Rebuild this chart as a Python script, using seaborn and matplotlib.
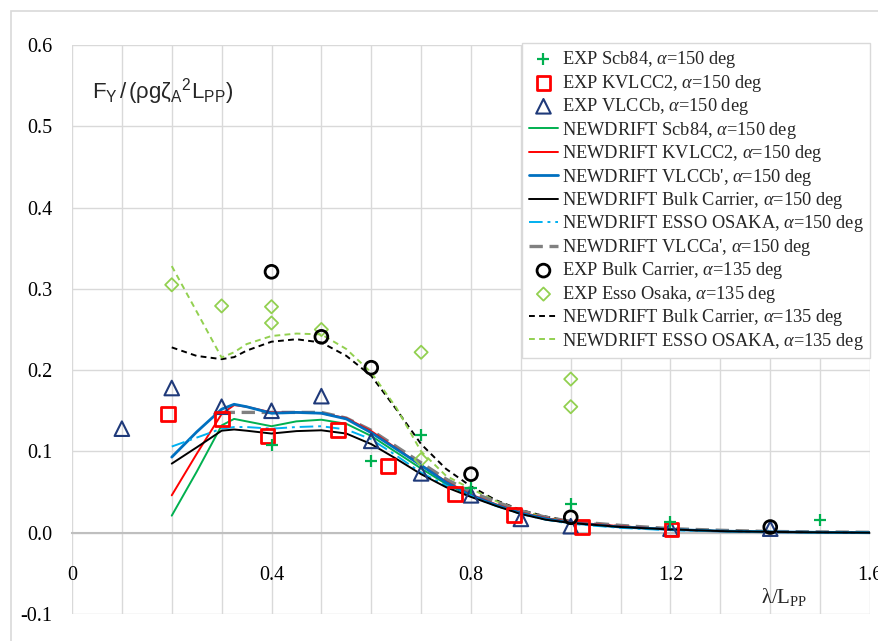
import numpy as np
import pandas as pd
import matplotlib
matplotlib.use("Agg")
import matplotlib.pyplot as plt
from matplotlib.patches import Rectangle
import seaborn as sns

# ---------------- data ----------------
exp_scb84_x = [0.4, 0.6, 0.7, 0.8, 1.0, 1.2, 1.5]
exp_scb84_y = [0.108, 0.088, 0.120, 0.055, 0.035, 0.013, 0.016]

exp_kvlcc2_x = [0.192, 0.30, 0.392, 0.534, 0.634, 0.768, 0.886, 1.022, 1.202]
exp_kvlcc2_y = [0.146, 0.140, 0.119, 0.126, 0.082, 0.048, 0.022, 0.007, 0.004]

exp_vlccb_x = [0.1, 0.2, 0.3, 0.4, 0.5, 0.6, 0.7, 0.8, 0.9, 1.0, 1.2, 1.4]
exp_vlccb_y = [0.128, 0.178, 0.155, 0.150, 0.168, 0.113, 0.073, 0.046, 0.017, 0.008, 0.005, 0.005]

exp_bulk_x = [0.4, 0.5, 0.6, 0.8, 1.0, 1.4]
exp_bulk_y = [0.321, 0.241, 0.203, 0.072, 0.019, 0.007]

exp_esso_x = [0.2, 0.3, 0.4, 0.4, 0.5, 0.7, 0.7, 1.0, 1.0]
exp_esso_y = [0.305, 0.279, 0.278, 0.258, 0.250, 0.222, 0.090, 0.189, 0.155]

nd_x = [0.2, 0.25, 0.3, 0.325, 0.35, 0.4, 0.45, 0.5, 0.55, 0.6, 0.65, 0.7, 0.75,
        0.8, 0.85, 0.9, 0.95, 1.0, 1.1, 1.2, 1.3, 1.4, 1.5, 1.6]
nd_scb84 = [0.021, 0.075, 0.132, 0.140, 0.137, 0.131, 0.137, 0.139, 0.134, 0.119, 0.099, 0.079,
            0.060, 0.045, 0.034, 0.024, 0.017, 0.012, 0.007, 0.004, 0.002, 0.001, 0.0005, 0.0]
nd_kvlcc2 = [0.046, 0.097, 0.146, 0.157, 0.155, 0.148, 0.148, 0.147, 0.141, 0.125, 0.104, 0.083,
             0.063, 0.047, 0.035, 0.025, 0.018, 0.013, 0.008, 0.004, 0.002, 0.001, 0.0005, 0.0]
nd_vlccb = [0.093, 0.124, 0.152, 0.158, 0.155, 0.147, 0.148, 0.147, 0.140, 0.123, 0.103, 0.083,
            0.062, 0.046, 0.034, 0.024, 0.017, 0.012, 0.007, 0.004, 0.002, 0.001, 0.0005, 0.0]
nd_bulk150 = [0.085, 0.105, 0.1255, 0.127, 0.1255, 0.122, 0.125, 0.126, 0.122, 0.109, 0.091, 0.072,
              0.056, 0.044, 0.033, 0.023, 0.016, 0.012, 0.007, 0.004, 0.002, 0.001, 0.0005, 0.0]
nd_esso150 = [0.106, 0.117, 0.128, 0.130, 0.130, 0.128, 0.130, 0.131, 0.127, 0.115, 0.095, 0.074,
              0.058, 0.045, 0.033, 0.023, 0.016, 0.011, 0.006, 0.003, 0.002, 0.001, 0.0005, 0.0]
nd_vlcca_x = nd_x[2:]
nd_vlcca = [0.148, 0.148, 0.148, 0.148, 0.148, 0.148, 0.141, 0.126, 0.106, 0.086, 0.066, 0.050,
            0.038, 0.027, 0.019, 0.014, 0.009, 0.005, 0.003, 0.0015, 0.001, 0.0005]
nd_bulk135 = [0.228, 0.2175, 0.2135, 0.216, 0.224, 0.235, 0.238, 0.234, 0.2176, 0.193, 0.152, 0.109,
              0.0785, 0.057, 0.040, 0.028, 0.020, 0.014, 0.008, 0.004, 0.002, 0.001, 0.0005, 0.0]
nd_esso135 = [0.328, 0.272, 0.2155, 0.222, 0.232, 0.242, 0.245, 0.244, 0.226, 0.197, 0.154, 0.100,
              0.070, 0.054, 0.039, 0.027, 0.019, 0.013, 0.007, 0.004, 0.002, 0.001, 0.0005, 0.0]

x_ticks = [0, 0.4, 0.8, 1.2, 1.6]
x_tick_labels = ["0", "0.4", "0.8", "1.2", "1.6"]
y_ticks = [-0.1, 0.0, 0.1, 0.2, 0.3, 0.4, 0.5, 0.6]
y_tick_labels = ["-0.1", "0.0", "0.1", "0.2", "0.3", "0.4", "0.5", "0.6"]

# ---------------- style ----------------
sns.set_theme(style="white")
plt.rcParams["font.family"] = ["Liberation Serif", "DejaVu Serif"]
plt.rcParams["mathtext.fontset"] = "custom"
plt.rcParams["mathtext.rm"] = "Liberation Serif"
plt.rcParams["mathtext.it"] = "Liberation Serif:italic"

fig = plt.figure(figsize=(8.79, 6.41), dpi=100)
ax = fig.add_axes([72 / 879, 1 - 614 / 641, (870 - 72) / 879, (614 - 45) / 641])

# outer chart frame
fig.patches.append(Rectangle((11 / 879, -0.05), 1.2, 1 - 11 / 641 + 0.05,
                             transform=fig.transFigure, fill=False,
                             edgecolor="#D9D9D9", linewidth=1.2, zorder=0))

GREEN = "#00B050"
RED = "#FF0000"
BLUE = "#0070C0"
NAVY = "#1F3A7A"
CYAN = "#00B0F0"
GRAY = "#808080"
LGREEN = "#92D050"

handles = {}

def scat(x, y, marker, color, s, lw, label, hollow=True):
    sns.scatterplot(x=x, y=y, marker=marker, s=s, ax=ax, color=color,
                    linewidth=lw, zorder=5, legend=False)
    col = ax.collections[-1]
    if hollow:
        col.set_facecolor("none")
        col.set_edgecolor(color)
    col.set_linewidth(lw)
    col.set_label(label)
    handles[label] = col

def line(x, y, color, lw, ls, label):
    df = pd.DataFrame({"x": x, "y": y})
    sns.lineplot(data=df, x="x", y="y", color=color, linewidth=lw, linestyle=ls,
                 ax=ax, sort=False, estimator=None, zorder=3, legend=False)
    ln = ax.lines[-1]
    ln.set_label(label)
    handles[label] = ln

A = r"$\alpha$"
labels = [
    f"EXP Scb84, {A}=150 deg",
    f"EXP KVLCC2, {A}=150 deg",
    f"EXP VLCCb, {A}=150 deg",
    f"NEWDRIFT Scb84, {A}=150 deg",
    f"NEWDRIFT KVLCC2, {A}=150 deg",
    f"NEWDRIFT VLCCb', {A}=150 deg",
    f"NEWDRIFT Bulk Carrier, {A}=150 deg",
    f"NEWDRIFT ESSO OSAKA, {A}=150 deg",
    f"NEWDRIFT VLCCa', {A}=150 deg",
    f"EXP Bulk Carrier, {A}=135 deg",
    f"EXP Esso Osaka, {A}=135 deg",
    f"NEWDRIFT Bulk Carrier, {A}=135 deg",
    f"NEWDRIFT ESSO OSAKA, {A}=135 deg",
]

# lines
line(nd_x, nd_bulk135, "black", 1.4, (0, (3, 2.2)), labels[11])
line(nd_x, nd_esso135, LGREEN, 1.4, (0, (3, 2.2)), labels[12])
line(nd_vlcca_x, nd_vlcca, GRAY, 2.4, (0, (4, 2)), labels[8])
line(nd_x, nd_kvlcc2, RED, 1.4, "-", labels[4])
line(nd_x, nd_scb84, GREEN, 1.4, "-", labels[3])
line(nd_x, nd_vlccb, BLUE, 2.0, "-", labels[5])
line(nd_x, nd_esso150, CYAN, 1.4, (0, (7, 2.5, 1.5, 2.5)), labels[7])
line(nd_x, nd_bulk150, "black", 1.4, "-", labels[6])

# markers
scat(exp_esso_x, exp_esso_y, "D", LGREEN, 45, 1.3, labels[10])
scat(exp_vlccb_x, exp_vlccb_y, "^", NAVY, 110, 1.5, labels[2])
scat(exp_kvlcc2_x, exp_kvlcc2_y, "s", RED, 100, 2.0, labels[1])
scat(exp_bulk_x, exp_bulk_y, "o", "black", 85, 2.0, labels[9])
scat(exp_scb84_x, exp_scb84_y, "+", GREEN, 80, 1.6, labels[0], hollow=False)

# axes formatting
ax.set_xlim(0, 1.6)
ax.set_ylim(-0.1, 0.6)
ax.set_xticks(x_ticks)
ax.set_xticklabels(x_tick_labels)
ax.set_xticks(np.arange(0, 1.61, 0.1), minor=True)
ax.set_yticks(y_ticks)
ax.set_yticklabels(y_tick_labels)
ax.grid(True, which="both", color="#D9D9D9", linewidth=1.0, zorder=0)
ax.set_axisbelow(True)
for s in ["top", "right", "left"]:
    ax.spines[s].set_visible(False)
ax.spines["bottom"].set_position(("data", 0))
ax.spines["bottom"].set_color("#BFBFBF")
ax.spines["bottom"].set_linewidth(1.5)
ax.spines["bottom"].set_zorder(1)
ax.tick_params(axis="x", which="both", length=0, pad=24, labelsize=14.5, colors="black")
ax.tick_params(axis="y", which="both", length=0, pad=14, labelsize=14.5, colors="black")
ax.set_xlabel("")
ax.set_ylabel("")

ax.text(0.025, 0.918, r"$\mathregular{F_Y\,/\,(ρgζ_A{}^2L_{PP})}$", transform=ax.transAxes,
        fontsize=16, family=["Liberation Sans", "DejaVu Sans"], va="center", ha="left")
ax.text(0.893, 0.03, r"$\mathregular{λ/L_{PP}}$", transform=ax.transAxes,
        fontsize=15, va="center", ha="center")

leg = ax.legend([handles[l] for l in labels], labels, loc="upper right",
                bbox_to_anchor=(1.0, 1.004), borderaxespad=0, fancybox=False,
                framealpha=1, edgecolor="#D9D9D9", fontsize=13.2, labelspacing=0.135,
                handlelength=1.6, handletextpad=0.2, borderpad=0.35, scatterpoints=1)
leg.get_frame().set_linewidth(1.0)
leg.set_zorder(10)

fig.savefig("out.png", dpi=100)
